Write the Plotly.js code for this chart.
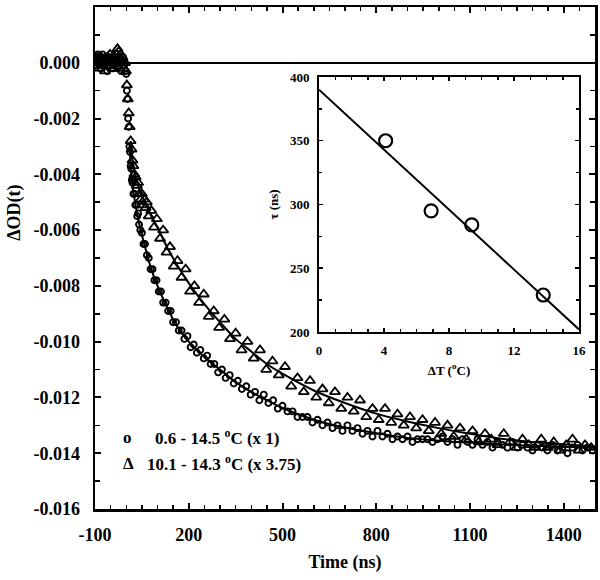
<!DOCTYPE html>
<html><head><meta charset="utf-8">
<script src="https://cdn.plot.ly/plotly-3.0.1.min.js"></script>
<style>body{margin:0;padding:0;background:#fff}#chart{width:600px;height:580px}</style>
</head><body><div id="chart"></div>
<script>
// ---- Main panel: circles (0.6 - 14.5 C, x1)
const circleT = [-100,-97,-94,-91,-88,-85,-82,-79,-76,-73,-70,-67,-64,-61,-58,-55,-52,-49,-46,-43,-40,-37,-34,-31,-28,-25,-22,-19,-16,-13,-10,-7,-4,
  -2,0,2,4,6,8,10,12,14,16,18,20,23,26,29,32,35,38,41,
  45,50,55,60,66,72,78,84,90,97,104,111,118,126,134,142,150,159,168,177,186,196,206,216,226,237,248,259,270,282,294,306,318,331,344,357,370,384,398,412,426,440,455,470,485,500,
  516,532,548,564,580,596,612,628,644,660,676,692,708,724,740,756,772,788,804,820,836,852,868,884,900,916,932,948,964,980,996,1012,1028,1044,1060,1076,1092,1108,1124,1140,1156,1172,1188,1204,1220,1236,1252,1268,1284,1300,1316,1332,1348,1364,1380,1396,1412,1428,1444,1460,1476,1492];
const circleOD = [0.0001,0.0002,-0.0001,0.0003,0.0002,0.0000,-0.0002,0.0001,0.0003,0.0001,-0.0001,0.0002,0.0000,-0.0003,0.0001,0.0002,-0.0001,0.0000,0.0002,-0.0002,0.0001,-0.0001,0.0000,0.0001,-0.0002,-0.0001,0.0002,0.0001,-0.0003,0.0000,0.0002,-0.0001,0.0000,
  -0.0003,-0.0004,-0.0010,-0.0013,-0.0020,-0.0023,-0.0030,-0.0032,-0.0037,-0.0038,-0.0042,-0.0043,-0.0047,-0.0047,-0.0051,-0.0051,-0.0055,-0.0054,-0.0058,
  -0.0060,-0.0061,-0.0065,-0.0065,-0.0069,-0.0070,-0.0074,-0.0074,-0.0078,-0.0078,-0.0082,-0.0082,-0.0086,-0.0086,-0.0089,-0.0089,-0.0093,-0.0093,-0.0096,-0.0096,-0.0099,-0.0098,-0.0102,-0.0101,-0.0104,-0.0103,-0.0106,-0.0105,-0.0108,-0.0108,-0.0111,-0.0110,-0.0113,-0.0112,-0.0115,-0.0114,-0.0117,-0.0116,-0.0119,-0.0118,-0.0121,-0.0119,-0.0122,-0.0121,-0.0124,-0.0123,
  -0.0125,-0.0125,-0.0127,-0.0127,-0.0127,-0.0129,-0.0128,-0.0130,-0.0129,-0.0131,-0.0130,-0.0132,-0.0130,-0.0132,-0.0131,-0.0133,-0.0132,-0.0134,-0.0132,-0.0134,-0.0133,-0.0135,-0.0134,-0.0135,-0.0134,-0.0136,-0.0135,-0.0135,-0.0135,-0.0136,-0.0135,
  -0.0134,-0.0136,-0.0135,-0.0137,-0.0135,-0.0136,-0.0137,-0.0135,-0.0137,-0.0136,-0.0138,-0.0136,-0.0137,-0.0138,-0.0136,-0.0138,-0.0137,-0.0138,-0.0139,-0.0137,-0.0138,-0.0139,-0.0137,-0.0139,-0.0138,-0.0140,-0.0138,-0.0137,-0.0139,-0.0138,-0.0139];
const circleFitT = [10,20,30,40,60,80,100,130,160,200,250,300,350,400,450,500,600,700,800,900,1000,1100,1200,1300,1400,1500];
const circleFitOD = [-0.0029,-0.0044,-0.0051,-0.0057,-0.0066,-0.0074,-0.0080,-0.00875,-0.0094,-0.0100,-0.01055,-0.0110,-0.01145,-0.0118,-0.0121,-0.01238,-0.0128,-0.01308,-0.01328,-0.01345,-0.01355,-0.01362,-0.01368,-0.01373,-0.01377,-0.0138];

// ---- Main panel: triangles (10.1 - 14.3 C, x3.75)
const triT = [-100,-96,-92,-88,-84,-80,-76,-72,-68,-64,-60,-56,-52,-48,-44,-40,-36,-32,-28,-24,-20,-16,-12,-8,
  -4,-1,2,5,8,11,14,17,20,23,26,30,34,38,42,46,50,54,58,62,66,72,80,
  89,98,108,118,129,140,152,164,177,190,204,218,233,248,264,280,297,314,332,350,369,388,408,428,448,468,
  488,508,528,548,568,588,608,628,648,668,688,708,728,748,768,788,808,828,848,868,888,908,928,948,968,988,1008,1028,1048,1068,1088,1108,1128,1148,1168,1188,1208,1228,1248,1268,1288,1308,1328,1348,1368,1388,1408,1428,1448,1468,1488];
const triOD = [-0.0001,0.0001,0.0002,-0.0002,0.0000,0.0002,-0.0001,0.0001,-0.0003,0.0000,0.0002,-0.0001,0.0003,0.0001,-0.0002,0.0002,0.0000,0.0003,0.0005,0.0004,0.0002,0.0001,0.0002,-0.0002,
  0.0000,-0.0003,-0.0008,-0.0013,-0.0018,-0.0023,-0.0028,-0.0031,-0.0035,-0.0037,-0.0040,-0.0041,-0.0044,-0.0043,-0.0047,-0.0049,-0.0047,-0.0051,-0.0049,-0.0052,-0.0050,-0.0055,-0.0053,
  -0.0059,-0.0056,-0.0063,-0.0060,-0.0068,-0.0066,-0.0073,-0.0071,-0.0077,-0.0074,-0.0082,-0.0080,-0.0086,-0.0083,-0.0091,-0.0089,-0.0095,-0.0092,-0.0099,-0.0097,-0.0103,-0.0100,-0.0106,-0.0103,-0.0110,-0.0107,
  -0.0112,-0.0109,-0.0116,-0.0113,-0.0118,-0.0114,-0.0120,-0.0117,-0.0122,-0.0118,-0.0124,-0.0120,-0.0125,-0.0121,-0.0127,-0.0124,-0.0128,-0.0124,-0.0129,-0.0126,-0.0130,-0.0127,-0.0131,-0.0128,-0.0132,-0.0129,-0.0133,-0.0130,-0.0134,-0.0131,-0.0135,-0.0132,-0.0136,-0.0133,-0.0135,-0.0137,-0.0133,-0.0136,-0.0138,-0.0135,-0.0137,-0.0138,-0.0135,-0.0138,-0.0136,-0.0139,-0.0137,-0.0135,-0.0139,-0.0137,-0.0138];
const triFitT = [14,20,30,44,60,80,100,130,160,200,250,300,350,400,450,500,600,700,800,900,1000,1100,1200,1300,1400,1500];
const triFitOD = [-0.0028,-0.0035,-0.0041,-0.0046,-0.0050,-0.0055,-0.0059,-0.0066,-0.0072,-0.0079,-0.00865,-0.0093,-0.0099,-0.01035,-0.0108,-0.01115,-0.01175,-0.0122,-0.01258,-0.01286,-0.0131,-0.0133,-0.01348,-0.0136,-0.01368,-0.01376];

// ---- Inset: tau vs delta T
const insetDT = [4.1, 6.9, 9.4, 13.8];
const insetTau = [350, 295, 284, 229];
const insetFitDT = [0, 16];
const insetFitTau = [390, 202];

// ---- tick labels
const xTickVals = [-100, 200, 500, 800, 1100, 1400];
const xTickText = ['-100', '200', '500', '800', '1100', '1400'];
const yTickVals = [0.002, 0, -0.002, -0.004, -0.006, -0.008, -0.010, -0.012, -0.014, -0.016];
const yTickText = ['0.002', '0.000', '-0.002', '-0.004', '-0.006', '-0.008', '-0.010', '-0.012', '-0.014', '-0.016'];
const insetXTickVals = [0, 4, 8, 12, 16];
const insetYTickVals = [200, 250, 300, 350, 400];

const seriesLabels = ['0.6 - 14.5 <sup>o</sup>C (x 1)', '10.1 - 14.3 <sup>o</sup>C (x 3.75)'];

const F = 'Liberation Serif, Times New Roman, serif';
const bold = (s) => ({family: F, size: s, color: '#000', weight: 'bold'});

const traces = [
  {x: circleT, y: circleOD, mode: 'markers', type: 'scatter', name: seriesLabels[0],
   marker: {symbol: 'circle-open', size: 6, color: '#000', line: {width: 1.9, color: '#000'}}},
  {x: triT, y: triOD, mode: 'markers', type: 'scatter', name: seriesLabels[1],
   marker: {symbol: 'triangle-up-open', size: 9, color: '#000', line: {width: 1.8, color: '#000'}}},
  {x: circleFitT, y: circleFitOD, mode: 'lines', type: 'scatter', line: {color: '#000', width: 2, shape: 'spline'}},
  {x: triFitT, y: triFitOD, mode: 'lines', type: 'scatter', line: {color: '#000', width: 2, shape: 'spline'}},
  {x: insetFitDT, y: insetFitTau, mode: 'lines', type: 'scatter', xaxis: 'x2', yaxis: 'y2', line: {color: '#000', width: 2}},
  {x: insetDT, y: insetTau, mode: 'markers', type: 'scatter', xaxis: 'x2', yaxis: 'y2',
   marker: {symbol: 'circle-open', size: 13, color: '#000', line: {width: 2.2, color: '#000'}}}
];

const axCommon = {showline: true, linecolor: '#000', mirror: 'allticks', ticks: 'inside', tickcolor: '#000', showgrid: false, zeroline: false};

const layout = {
  width: 600, height: 580,
  margin: {l: 95, r: 5, t: 7, b: 71},
  paper_bgcolor: '#fff', plot_bgcolor: '#fff',
  showlegend: false,
  xaxis: Object.assign({}, axCommon, {
    range: [-100, 1500], linewidth: 2.5, ticklen: 6, tickwidth: 2, ticklabelstandoff: 8,
    tickmode: 'array', tickvals: xTickVals, ticktext: xTickText, tickfont: bold(18),
    minor: {dtick: 50, tick0: -100, ticklen: 4, tickwidth: 1.5, ticks: 'inside', tickcolor: '#000'},
    title: {text: 'Time (ns)', font: bold(18), standoff: 12}
  }),
  yaxis: Object.assign({}, axCommon, {
    range: [-0.016, 0.002], linewidth: 2.5, ticklen: 6, tickwidth: 2, ticklabelstandoff: 9,
    tickmode: 'array', tickvals: yTickVals, ticktext: yTickText, tickfont: bold(18),
    minor: {dtick: 0.001, tick0: 0, ticklen: 5, tickwidth: 1.5, ticks: 'inside', tickcolor: '#000'},
    zeroline: true, zerolinecolor: '#000', zerolinewidth: 2
  }),
  xaxis2: Object.assign({}, axCommon, {
    domain: [0.448, 0.968], anchor: 'y2', range: [0, 16], linewidth: 2, ticklen: 4, tickwidth: 1.5, ticklabelstandoff: 5,
    tickmode: 'array', tickvals: insetXTickVals, tickfont: bold(13),
    minor: {dtick: 1, tick0: 0, ticklen: 3, tickwidth: 1.5, ticks: 'inside', tickcolor: '#000'},
    title: {text: '\u0394T (<sup>o</sup>C)', font: bold(13), standoff: 9}
  }),
  yaxis2: Object.assign({}, axCommon, {
    domain: [0.3526, 0.8606], anchor: 'x2', range: [200, 400], linewidth: 2, ticklen: 4, tickwidth: 1.5, ticklabelstandoff: 5,
    tickmode: 'array', tickvals: insetYTickVals, tickfont: bold(13),
    minor: {dtick: 25, tick0: 200, ticklen: 3, tickwidth: 1.5, ticks: 'inside', tickcolor: '#000'},
    title: {text: '\u03C4 (ns)', font: bold(13), standoff: 8}
  }),
  annotations: [
    {xref: 'paper', yref: 'paper', x: -0.16, y: 0.59, text: '\u0394OD(t)', textangle: -90, showarrow: false, font: bold(18), xanchor: 'center', yanchor: 'middle'},
    {xref: 'paper', yref: 'paper', x: 0.064, y: 0.1434, text: 'o', showarrow: false, font: bold(17), xanchor: 'center', yanchor: 'middle'},
    {xref: 'paper', yref: 'paper', x: 0.116, y: 0.1434, text: seriesLabels[0], showarrow: false, font: bold(17), xanchor: 'left', yanchor: 'middle'},
    {xref: 'paper', yref: 'paper', x: 0.066, y: 0.0916, text: '\u0394', showarrow: false, font: bold(17), xanchor: 'center', yanchor: 'middle'},
    {xref: 'paper', yref: 'paper', x: 0.1, y: 0.0916, text: seriesLabels[1], showarrow: false, font: bold(17), xanchor: 'left', yanchor: 'middle'}
  ]
};

Plotly.newPlot('chart', traces, layout, {displayModeBar: false, staticPlot: true});
</script></body></html>
